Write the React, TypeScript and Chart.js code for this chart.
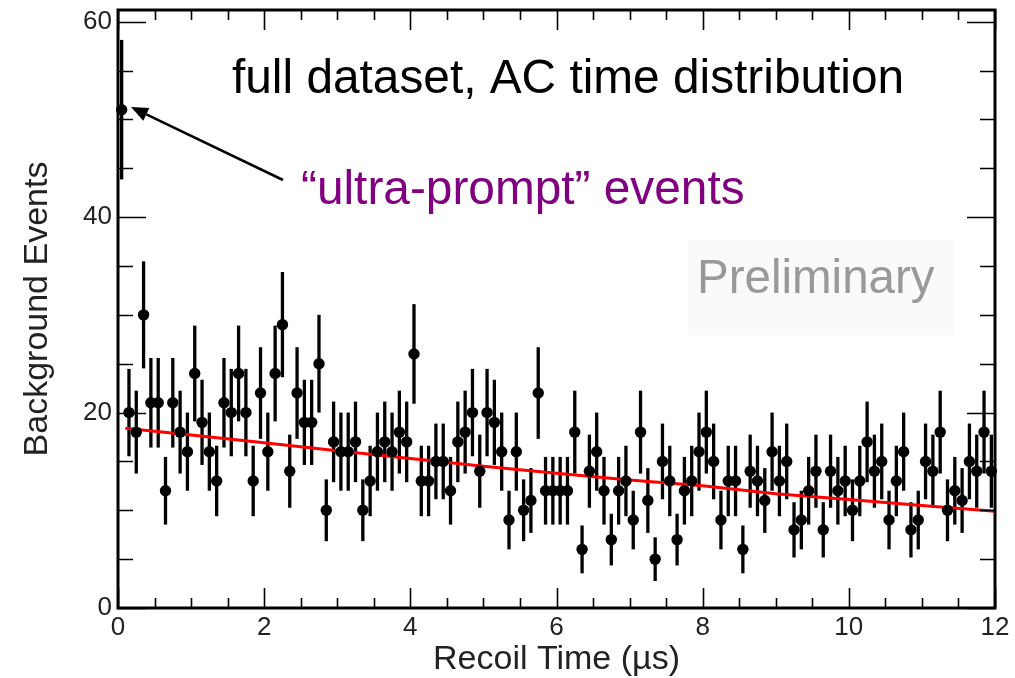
import React, { useEffect, useRef } from "react";
import { Chart, registerables } from "chart.js";

Chart.register(...registerables);

const FONT = "'Liberation Sans', Arial, Helvetica, sans-serif";

// Bin centres (µs), 0.1 µs bins
const binCenters = [
  0.05, 0.15, 0.25, 0.35, 0.45, 0.55, 0.65, 0.75, 0.85, 0.95,
  1.05, 1.15, 1.25, 1.35, 1.45, 1.55, 1.65, 1.75, 1.85, 1.95,
  2.05, 2.15, 2.25, 2.35, 2.45, 2.55, 2.65, 2.75, 2.85, 2.95,
  3.05, 3.15, 3.25, 3.35, 3.45, 3.55, 3.65, 3.75, 3.85, 3.95,
  4.05, 4.15, 4.25, 4.35, 4.45, 4.55, 4.65, 4.75, 4.85, 4.95,
  5.05, 5.15, 5.25, 5.35, 5.45, 5.55, 5.65, 5.75, 5.85, 5.95,
  6.05, 6.15, 6.25, 6.35, 6.45, 6.55, 6.65, 6.75, 6.85, 6.95,
  7.05, 7.15, 7.25, 7.35, 7.45, 7.55, 7.65, 7.75, 7.85, 7.95,
  8.05, 8.15, 8.25, 8.35, 8.45, 8.55, 8.65, 8.75, 8.85, 8.95,
  9.05, 9.15, 9.25, 9.35, 9.45, 9.55, 9.65, 9.75, 9.85, 9.95,
  10.05, 10.15, 10.25, 10.35, 10.45, 10.55, 10.65, 10.75, 10.85, 10.95,
  11.05, 11.15, 11.25, 11.35, 11.45, 11.55, 11.65, 11.75, 11.85, 11.95,
];

// Background event counts per bin
const counts = [
  51, 20, 18, 30, 21, 21, 12, 21, 18, 16,
  24, 19, 16, 13, 21, 20, 24, 20, 13, 22,
  16, 24, 29, 14, 22, 19, 19, 25, 10, 17,
  16, 16, 17, 10, 13, 16, 17, 16, 18, 17,
  26, 13, 13, 15, 15, 12, 17, 18, 20, 14,
  20, 19, 16, 9, 16, 10, 11, 22, 12, 12,
  12, 12, 18, 6, 14, 16, 12, 7, 12, 13,
  9, 18, 11, 5, 15, 13, 7, 12, 13, 16,
  18, 15, 9, 13, 13, 6, 14, 13, 11, 16,
  13, 15, 8, 9, 12, 14, 8, 14, 12, 13,
  10, 13, 17, 14, 15, 9, 13, 16, 8, 9,
  15, 14, 18, 10, 12, 11, 15, 14, 18, 14,
];

const binHalfWidth = 0.05;

// Fit curve
const fitTime = [0.1, 1, 2, 3, 4, 5, 6, 7, 8, 9, 10, 11, 12];
const fitValue = [18.4, 17.7, 16.9, 16.1, 15.3, 14.5, 13.8, 13.1, 12.5, 11.7, 11.1, 10.5, 9.9];

const xTickValues = [0, 2, 4, 6, 8, 10, 12];
const yTickValues = [0, 20, 40, 60];

const rootStylePlugin = {
  id: "rootStyle",
  beforeDatasetsDraw(chart: any) {
    const { ctx } = chart;
    const xs = chart.scales.x;
    const ys = chart.scales.y;
    ctx.save();
    ctx.strokeStyle = "#000";
    for (let i = 0; i < counts.length; i++) {
      const c = counts[i];
      const e = Math.sqrt(c);
      const px = xs.getPixelForValue(binCenters[i]);
      const py = ys.getPixelForValue(c);
      ctx.lineWidth = 3.3;
      ctx.beginPath();
      ctx.moveTo(px, ys.getPixelForValue(c + e));
      ctx.lineTo(px, ys.getPixelForValue(c - e));
      ctx.stroke();
      ctx.lineWidth = 2;
      ctx.beginPath();
      ctx.moveTo(xs.getPixelForValue(binCenters[i] - binHalfWidth), py);
      ctx.lineTo(xs.getPixelForValue(binCenters[i] + binHalfWidth), py);
      ctx.stroke();
    }
    ctx.restore();
  },
  afterDatasetsDraw(chart: any) {
    const { ctx, chartArea } = chart;
    const { left, right, top, bottom } = chartArea;
    const xs = chart.scales.x;
    const ys = chart.scales.y;
    ctx.save();
    ctx.strokeStyle = "#000";
    ctx.lineWidth = 1.6;
    // y ticks (left and right, inward)
    for (let v = 0; v <= 60.001; v += 5) {
      const major = Math.abs(v % 20) < 1e-6;
      const len = major ? 28 : 15;
      const py = Math.round(ys.getPixelForValue(v)) + 0.5;
      ctx.beginPath();
      ctx.moveTo(left, py);
      ctx.lineTo(left + len, py);
      ctx.moveTo(right, py);
      ctx.lineTo(right - len, py);
      ctx.stroke();
    }
    // x ticks (bottom and top, inward)
    for (let v = 0; v <= 12.001; v += 0.5) {
      const major = Math.abs(v % 2) < 1e-6;
      const len = major ? 20 : 10;
      const px = Math.round(xs.getPixelForValue(v)) + 0.5;
      ctx.beginPath();
      ctx.moveTo(px, bottom);
      ctx.lineTo(px, bottom - len);
      ctx.moveTo(px, top);
      ctx.lineTo(px, top + len);
      ctx.stroke();
    }
    // frame
    ctx.lineWidth = 3;
    ctx.strokeRect(left, top, right - left, bottom - top);
    ctx.restore();
  },
  afterDraw(chart: any) {
    const { ctx } = chart;
    ctx.save();
    // Preliminary box
    ctx.fillStyle = "#fafafa";
    ctx.fillRect(688, 240, 267, 95);
    ctx.textBaseline = "alphabetic";
    ctx.textAlign = "left";
    ctx.font = `47.5px ${FONT}`;
    ctx.fillStyle = "#999999";
    ctx.fillText("Preliminary", 697, 293);
    ctx.font = `47.8px ${FONT}`;
    ctx.fillStyle = "#000";
    ctx.fillText("full dataset, AC time distribution", 232, 93);
    ctx.fillStyle = "#800080";
    ctx.fillText("\u201Cultra-prompt\u201D events", 301, 204);
    // arrow
    const sx = 283, sy = 180, tx = 131, ty = 107;
    const dx = tx - sx, dy = ty - sy;
    const L = Math.hypot(dx, dy);
    const ux = dx / L, uy = dy / L;
    const hl = 17, hw = 7;
    const bx = tx - ux * hl, by = ty - uy * hl;
    ctx.strokeStyle = "#000";
    ctx.lineWidth = 2.5;
    ctx.beginPath();
    ctx.moveTo(sx, sy);
    ctx.lineTo(bx, by);
    ctx.stroke();
    ctx.fillStyle = "#000";
    ctx.beginPath();
    ctx.moveTo(tx, ty);
    ctx.lineTo(bx - uy * hw, by + ux * hw);
    ctx.lineTo(bx + uy * hw, by - ux * hw);
    ctx.closePath();
    ctx.fill();
    ctx.restore();
  },
};

export default function App() {
  const canvasRef = useRef<HTMLCanvasElement | null>(null);

  useEffect(() => {
    const canvas = canvasRef.current;
    if (!canvas) return;
    const chart = new Chart(canvas, {
      type: "scatter",
      data: {
        datasets: [
          {
            label: "data",
            data: binCenters.map((x, i) => ({ x, y: counts[i] })),
            pointRadius: 5.7,
            pointHoverRadius: 5.7,
            pointBackgroundColor: "#000",
            pointBorderColor: "#000",
            pointBorderWidth: 0,
            showLine: false,
            clip: false,
          } as any,
          {
            label: "fit",
            data: fitTime.map((x, i) => ({ x, y: fitValue[i] })),
            showLine: true,
            borderColor: "#ff0000",
            borderWidth: 3,
            pointRadius: 0,
            fill: false,
          } as any,
        ],
      },
      options: {
        responsive: false,
        animation: false,
        devicePixelRatio: 1,
        layout: { padding: { left: 0, right: 20, top: 10, bottom: 0 } },
        plugins: {
          legend: { display: false },
          tooltip: { enabled: false },
        },
        scales: {
          x: {
            type: "linear",
            position: "bottom",
            min: 0,
            max: 12,
            grid: { display: false, drawTicks: false },
            border: { display: false },
            ticks: {
              font: { size: 26, family: FONT },
              color: "#222",
              padding: 4,
              maxRotation: 0,
              autoSkip: false,
            },
            title: {
              display: true,
              text: "Recoil Time (\u00B5s)",
              font: { size: 34, family: FONT },
              color: "#222",
              padding: { top: 0, bottom: -2 },
            },
            afterBuildTicks: (s: any) => {
              s.ticks = xTickValues.map((v) => ({ value: v }));
            },
            afterFit: (s: any) => {
              s.height = 70;
              s.paddingLeft = 0;
              s.paddingRight = 0;
            },
          } as any,
          y: {
            type: "linear",
            position: "left",
            min: 0,
            max: 61.2,
            grid: { display: false, drawTicks: false },
            border: { display: false },
            ticks: {
              font: { size: 26, family: FONT },
              color: "#222",
              padding: 6,
            },
            title: {
              display: true,
              text: "Background Events",
              font: { size: 34, family: FONT },
              color: "#222",
              padding: { top: 17, bottom: 0 },
            },
            afterBuildTicks: (s: any) => {
              s.ticks = yTickValues.map((v) => ({ value: v }));
            },
            afterFit: (s: any) => {
              s.width = 118;
              s.paddingTop = 0;
              s.paddingBottom = 0;
            },
          } as any,
        },
      },
      plugins: [rootStylePlugin],
    });
    return () => chart.destroy();
  }, []);

  return (
    <div style={{ position: "absolute", left: 0, top: 0, width: 1015, height: 678, background: "#fff" }}>
      <canvas ref={canvasRef} width={1015} height={678} style={{ display: "block" }} />
    </div>
  );
}
